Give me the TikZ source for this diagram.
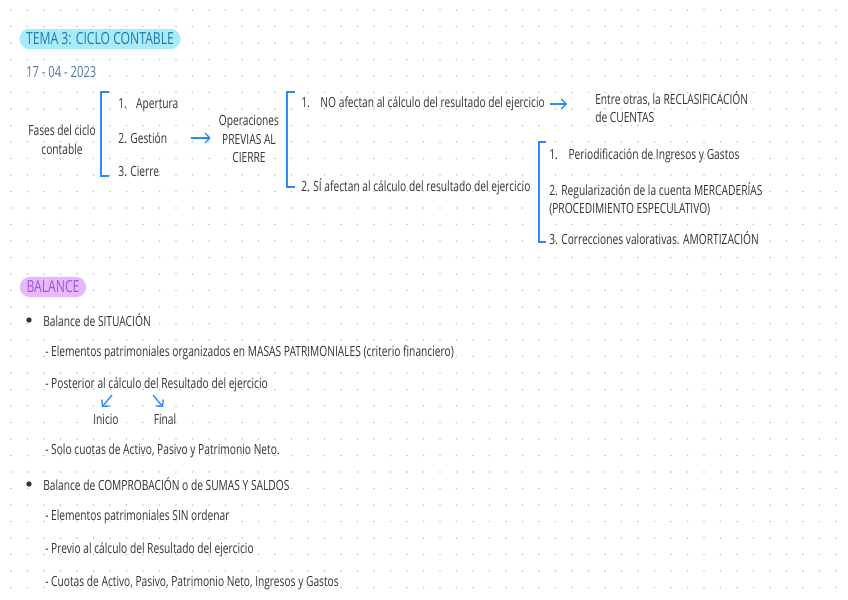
\documentclass[tikz,border=0pt]{standalone}
\usepackage{fontspec}
\setmainfont[FakeStretch=0.73]{Open Sans}
\usepackage{tikz}
\usetikzlibrary{positioning,arrows.meta}

\definecolor{penblue}{HTML}{2B8AF5}
\definecolor{inkgray}{HTML}{333333}
\definecolor{dotgray}{HTML}{C4C4C4}
\definecolor{pillcyan}{HTML}{A9EAFB}
\definecolor{titlecyan}{HTML}{1C7BAA}
\definecolor{datecol}{HTML}{4A78B0}
\definecolor{pillpurple}{HTML}{E5B9FB}
\definecolor{textpurple}{HTML}{A54EE6}

\begin{document}
\begin{tikzpicture}[x=0.75pt,y=-0.75pt,
        txt/.style={anchor=west,inner sep=0pt,text=inkgray,
                    font=\fontsize{10.5}{14}\selectfont},
        ctr/.style={txt,anchor=center,align=center},
        pill/.style={rounded corners=7.5pt,inner xsep=5pt,inner ysep=3pt,
                     font=\fontsize{12.5}{14}\selectfont},
        brk/.style={penblue,line width=1.4pt},
        arr/.style={penblue,line width=1pt,-{Straight Barb[length=3.5pt,width=7.5pt]}},
        bullet/.style={circle,fill=inkgray,inner sep=0pt,minimum size=4pt}]
        % page and dotted paper
        \fill[white] (0,0) rectangle (848,599);
        \useasboundingbox (0,0) rectangle (848,599);
        \foreach \i in {0,...,50}
          \foreach \j in {0,...,35}
            \fill[dotgray] (11+16.5*\i,10+16.5*\j) circle (0.6pt);

        % header
        \node[pill,fill=pillcyan,text=titlecyan] (tema) at (100,39) {TEMA 3: CICLO CONTABLE};
        \node[txt,text=datecol,font=\fontsize{11.5}{14}\selectfont] (fecha) at (26,72) {17 - 04 - 2023};

        % fases del ciclo
        \node[ctr] (fases) at (62,140) {Fases del ciclo\\contable};
        \node[txt] (apertura) at (118,105) {1.\hspace{7pt}Apertura};
        \node[txt] (gestion) at (118,138) {2. Gestión};
        \node[txt] (cierre) at (118,171) {3. Cierre};
        \draw[brk] (109,92) -| (101,176) -- (109,176);

        \node[ctr] (oper) at (249,139) {Operaciones\\PREVIAS AL\\CIERRE};
        \draw[arr,shorten <=18pt,shorten >=6pt] (gestion.east) -- (oper.west |- gestion.east);

        \node[txt] (noaf) at (301,104) {1.\hspace{8pt}NO afectan al cálculo del resultado del ejercicio};
        \node[txt] (siaf) at (301,187) {2. SÍ afectan al cálculo del resultado del ejercicio};
        \draw[brk] (295,92) -| (287,187) -- (295,187);

        \node[txt,align=left,anchor=north west] (entre) at (595,91) {Entre otras, la RECLASIFICACIÓN\\de CUENTAS};
        \draw[arr,shorten <=4pt,shorten >=21pt] (noaf.east) -- (entre.west |- noaf.east);

        \node[txt] (perio) at (549,156) {1.\hspace{8pt}Periodificación de Ingresos y Gastos};
        \node[txt,align=left,anchor=north west] (regul) at (549,182) {2. Regularización de la cuenta MERCADERÍAS\\(PROCEDIMIENTO ESPECULATIVO)};
        \node[txt] (correc) at (549,238) {3. Correcciones valorativas. AMORTIZACIÓN};
        \draw[brk] (546,142) -| (539,242) -- (546,242);

        % balance
        \node[pill,fill=pillpurple,text=textpurple] (balance) at (53,287) {BALANCE};

        \node[bullet] (b1) at (29,320) {};
        \node[txt] (situacion) at (43,320) {Balance de SITUACIÓN};
        \node[txt] (masas) at (45,353) {- Elementos patrimoniales organizados en MASAS PATRIMONIALES (criterio financiero)};
        \node[txt] (posterior) at (45,385) {- Posterior al cálculo del Resultado del ejercicio};
        \node[ctr] (inicio) at (106,419) {Inicio};
        \node[ctr] (final) at (165,419) {Final};
        \coordinate (iniA) at (112,395);
        \coordinate (iniB) at (102,407);
        \coordinate (finA) at (153,395);
        \coordinate (finB) at (163,407);
        \draw[arr] (iniA) -- (iniB);
        \draw[arr] (finA) -- (finB);
        \node[txt] (solo) at (45,451) {- Solo cuotas de Activo, Pasivo y Patrimonio Neto.};

        \node[bullet] (b2) at (29,484) {};
        \node[txt] (comprob) at (43,484) {Balance de COMPROBACIÓN o de SUMAS Y SALDOS};
        \node[txt] (sinord) at (45,517) {- Elementos patrimoniales SIN ordenar};
        \node[txt] (previo) at (45,550) {- Previo al cálculo del Resultado del ejercicio};
        \node[txt] (cuotas) at (45,583) {- Cuotas de Activo, Pasivo, Patrimonio Neto, Ingresos y Gastos};
      \end{tikzpicture}
\end{document}
